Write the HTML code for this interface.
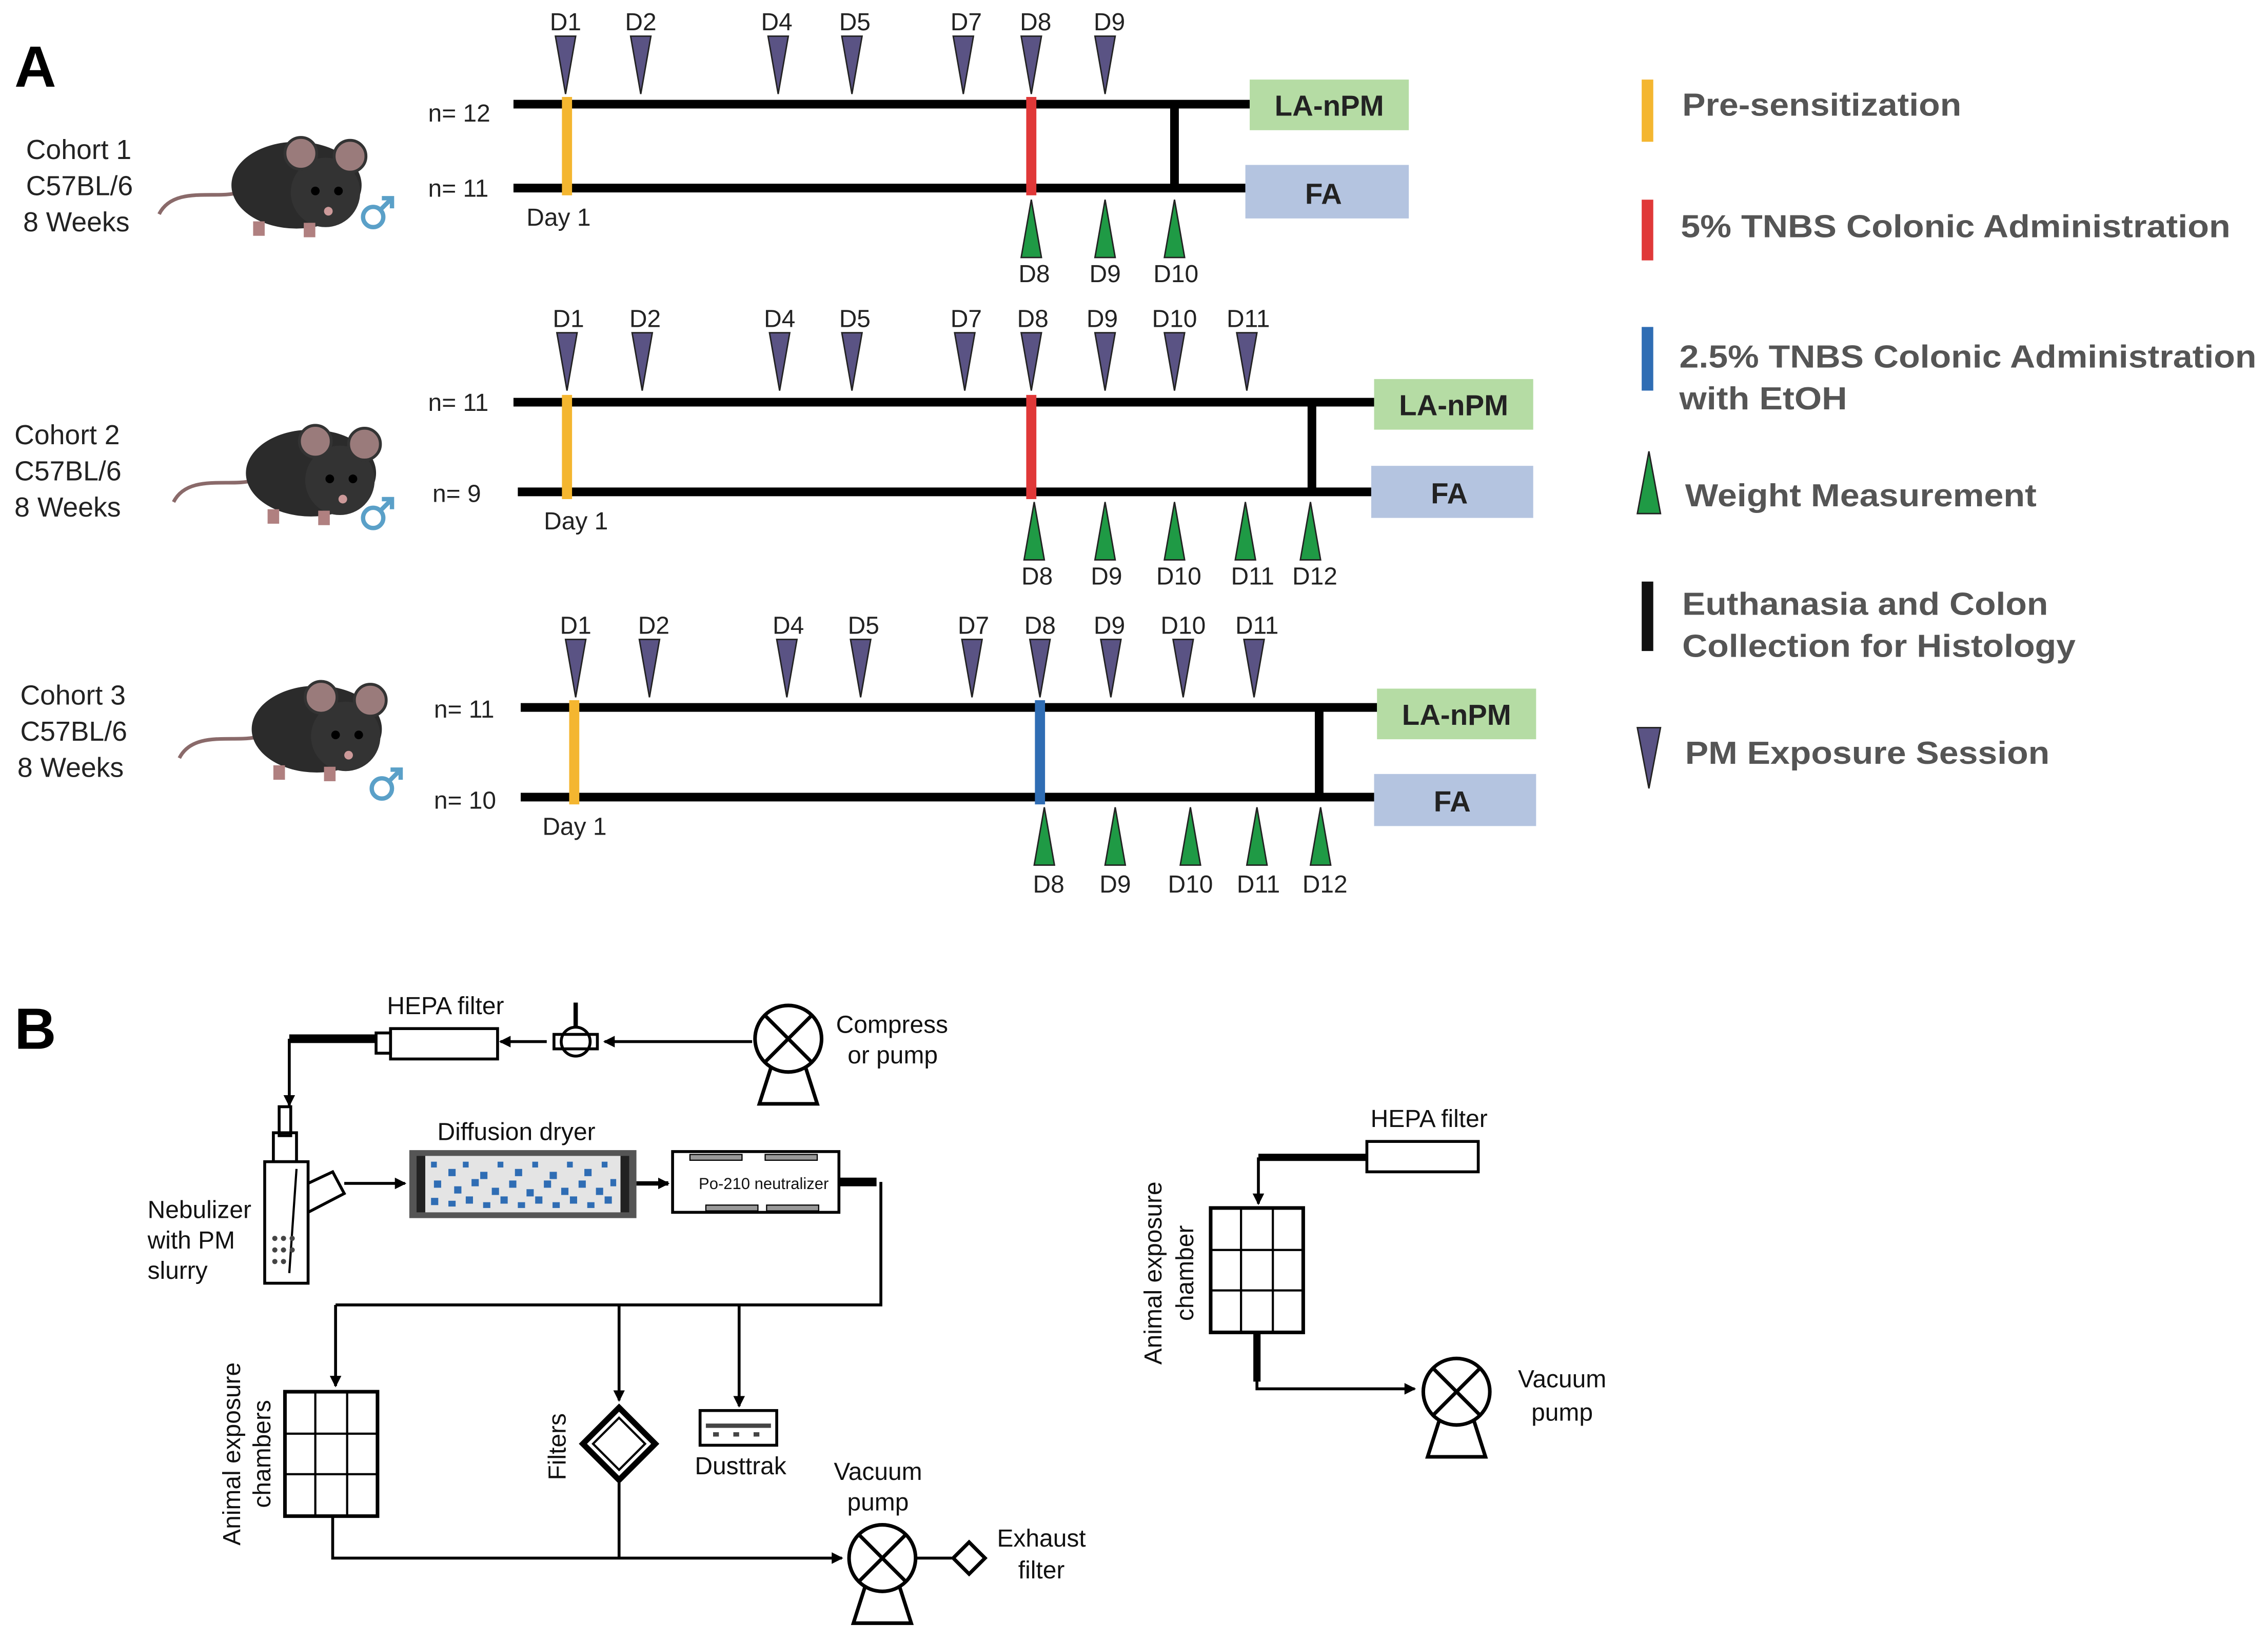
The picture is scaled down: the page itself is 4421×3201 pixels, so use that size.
<!DOCTYPE html>
<html><head><meta charset="utf-8"><style>
html,body{margin:0;padding:0;background:#fff}
svg{display:block}
text{font-family:"Liberation Sans",Arial,sans-serif}
</style></head><body>
<svg width="4421" height="3201" viewBox="0 0 1568 1135" preserveAspectRatio="none" xmlns="http://www.w3.org/2000/svg">
<defs>
<g id="pd"><polygon points="-7,0 7,0 0,40" fill="#5a5384" stroke="#222" stroke-width="1"/></g>
<g id="gu"><polygon points="-7,40 7,40 0,0" fill="#1f9a45" stroke="#222" stroke-width="1"/></g>
<marker id="ar" markerWidth="8" markerHeight="8" refX="7" refY="4" orient="auto" markerUnits="userSpaceOnUse"><path d="M0,0 L8,4 L0,8 z" fill="#000"/></marker>
<g id="mouse">
<path d="M0,50 C10,30 40,40 55,35" stroke="#8a6a6a" stroke-width="2.5" fill="none"/>
<ellipse cx="95" cy="30" rx="45" ry="30" fill="#2b2b2b"/>
<circle cx="115" cy="35" r="24" fill="#333"/>
<circle cx="98" cy="8" r="11" fill="#9a7b7b" stroke="#333" stroke-width="2"/>
<circle cx="132" cy="10" r="11" fill="#9a7b7b" stroke="#333" stroke-width="2"/>
<circle cx="108" cy="34" r="3" fill="#000"/><circle cx="124" cy="34" r="3" fill="#000"/>
<circle cx="117" cy="48" r="3" fill="#c99"/>
<rect x="65" y="55" width="8" height="10" fill="#b08080"/><rect x="100" y="56" width="8" height="10" fill="#b08080"/>
</g>
<g id="male" fill="none" stroke="#5aa0c8" stroke-width="3"><circle cx="0" cy="0" r="7"/><path d="M5,-5 L13,-13 M6,-13 H13 V-6"/></g>
<g id="pump"><circle cx="0" cy="0" r="23" fill="#fff" stroke="#000" stroke-width="2.5"/><path d="M-16,-16 L16,16 M16,-16 L-16,16" stroke="#000" stroke-width="2.5"/><path d="M-12,20 L-20,45 L20,45 L12,20" fill="none" stroke="#000" stroke-width="2.5"/></g>
<g id="grid"><rect x="0" y="0" width="64" height="86" fill="#fff" stroke="#000" stroke-width="2.5"/><path d="M21,0V86M43,0V86M0,29H64M0,57H64" stroke="#000" stroke-width="1.5"/></g>
</defs>

<text x="10" y="60" font-size="40" font-weight="bold">A</text>
<text x="10" y="725" font-size="40" font-weight="bold">B</text>

<g font-size="19" fill="#222">
<text x="18" y="110">Cohort 1</text><text x="18" y="135">C57BL/6</text><text x="16" y="160">8 Weeks</text>
<text x="10" y="307">Cohort 2</text><text x="10" y="332">C57BL/6</text><text x="10" y="357">8 Weeks</text>
<text x="14" y="487">Cohort 3</text><text x="14" y="512">C57BL/6</text><text x="12" y="537">8 Weeks</text>
</g>
<use href="#mouse" x="110" y="98"/><use href="#mouse" x="120" y="297"/><use href="#mouse" x="124" y="474"/>
<use href="#male" x="258" y="150"/><use href="#male" x="258" y="358"/><use href="#male" x="264" y="545"/>

<g stroke="#000" stroke-width="6">
<line x1="355" y1="72" x2="864" y2="72"/><line x1="355" y1="130" x2="861" y2="130"/><line x1="812" y1="72" x2="812" y2="130"/>
<line x1="355" y1="278" x2="950" y2="278"/><line x1="358" y1="340" x2="948" y2="340"/><line x1="907" y1="278" x2="907" y2="340"/>
<line x1="360" y1="489" x2="952" y2="489"/><line x1="360" y1="551" x2="950" y2="551"/><line x1="912" y1="489" x2="912" y2="551"/>
</g>
<g stroke-width="7">
<line x1="392" y1="67" x2="392" y2="135" stroke="#f4b630"/><line x1="713" y1="67" x2="713" y2="135" stroke="#e03838"/>
<line x1="392" y1="273" x2="392" y2="345" stroke="#f4b630"/><line x1="713" y1="273" x2="713" y2="345" stroke="#e03838"/>
<line x1="397" y1="484" x2="397" y2="556" stroke="#f4b630"/><line x1="719" y1="484" x2="719" y2="556" stroke="#2f6db4"/>
</g>
<g font-size="20" font-weight="bold" fill="#222">
<rect x="864" y="55" width="110" height="35" fill="#b5dca4"/><text x="919" y="80" text-anchor="middle">LA-nPM</text>
<rect x="861" y="114" width="113" height="37" fill="#b4c4e0"/><text x="915" y="141" text-anchor="middle">FA</text>
<rect x="950" y="262" width="110" height="35" fill="#b5dca4"/><text x="1005" y="287" text-anchor="middle">LA-nPM</text>
<rect x="948" y="322" width="112" height="36" fill="#b4c4e0"/><text x="1002" y="348" text-anchor="middle">FA</text>
<rect x="952" y="476" width="110" height="35" fill="#b5dca4"/><text x="1007" y="501" text-anchor="middle">LA-nPM</text>
<rect x="950" y="535" width="112" height="36" fill="#b4c4e0"/><text x="1004" y="561" text-anchor="middle">FA</text>
</g>
<g font-size="17" fill="#222">
<text x="296" y="84">n= 12</text><text x="296" y="136">n= 11</text><text x="364" y="156">Day 1</text>
<text x="296" y="284">n= 11</text><text x="299" y="347">n= 9</text><text x="376" y="366">Day 1</text>
<text x="300" y="496">n= 11</text><text x="300" y="559">n= 10</text><text x="375" y="577">Day 1</text>
</g>
<g font-size="17" fill="#222" text-anchor="middle">
<use href="#pd" x="391" y="25"/><use href="#pd" x="443" y="25"/><use href="#pd" x="538" y="25"/><use href="#pd" x="589" y="25"/><use href="#pd" x="666" y="25"/><use href="#pd" x="713" y="25"/><use href="#pd" x="764" y="25"/>
<text x="391" y="21">D1</text><text x="443" y="21">D2</text><text x="537" y="21">D4</text><text x="591" y="21">D5</text><text x="668" y="21">D7</text><text x="716" y="21">D8</text><text x="767" y="21">D9</text>
<use href="#gu" x="713" y="138"/><use href="#gu" x="764" y="138"/><use href="#gu" x="812" y="138"/>
<text x="715" y="195">D8</text><text x="764" y="195">D9</text><text x="813" y="195">D10</text>

<use href="#pd" x="392" y="230"/><use href="#pd" x="444" y="230"/><use href="#pd" x="539" y="230"/><use href="#pd" x="589" y="230"/><use href="#pd" x="667" y="230"/><use href="#pd" x="713" y="230"/><use href="#pd" x="764" y="230"/><use href="#pd" x="812" y="230"/><use href="#pd" x="862" y="230"/>
<text x="393" y="226">D1</text><text x="446" y="226">D2</text><text x="539" y="226">D4</text><text x="591" y="226">D5</text><text x="668" y="226">D7</text><text x="714" y="226">D8</text><text x="762" y="226">D9</text><text x="812" y="226">D10</text><text x="863" y="226">D11</text>
<use href="#gu" x="715" y="347"/><use href="#gu" x="764" y="347"/><use href="#gu" x="812" y="347"/><use href="#gu" x="861" y="347"/><use href="#gu" x="906" y="347"/>
<text x="717" y="404">D8</text><text x="765" y="404">D9</text><text x="815" y="404">D10</text><text x="866" y="404">D11</text><text x="909" y="404">D12</text>

<use href="#pd" x="398" y="442"/><use href="#pd" x="449" y="442"/><use href="#pd" x="544" y="442"/><use href="#pd" x="595" y="442"/><use href="#pd" x="672" y="442"/><use href="#pd" x="719" y="442"/><use href="#pd" x="768" y="442"/><use href="#pd" x="818" y="442"/><use href="#pd" x="867" y="442"/>
<text x="398" y="438">D1</text><text x="452" y="438">D2</text><text x="545" y="438">D4</text><text x="597" y="438">D5</text><text x="673" y="438">D7</text><text x="719" y="438">D8</text><text x="767" y="438">D9</text><text x="818" y="438">D10</text><text x="869" y="438">D11</text>
<use href="#gu" x="722" y="558"/><use href="#gu" x="771" y="558"/><use href="#gu" x="823" y="558"/><use href="#gu" x="869" y="558"/><use href="#gu" x="913" y="558"/>
<text x="725" y="617">D8</text><text x="771" y="617">D9</text><text x="823" y="617">D10</text><text x="870" y="617">D11</text><text x="916" y="617">D12</text>
</g>

<g stroke-width="8">
<line x1="1139" y1="55" x2="1139" y2="98" stroke="#f4b630"/>
<line x1="1139" y1="138" x2="1139" y2="180" stroke="#e03838"/>
<line x1="1139" y1="226" x2="1139" y2="270" stroke="#2f6db4"/>
<line x1="1139" y1="402" x2="1139" y2="450" stroke="#111"/>
</g>
<polygon points="1132,355 1148,355 1140,312" fill="#1f9a45" stroke="#222"/>
<polygon points="1132,503 1148,503 1140,545" fill="#5a5384" stroke="#222"/>
<g font-size="22" font-weight="bold" fill="#555" lengthAdjust="spacingAndGlyphs">
<text x="1163" y="80" textLength="193" lengthAdjust="spacingAndGlyphs">Pre-sensitization</text>
<text x="1162" y="164" textLength="380" lengthAdjust="spacingAndGlyphs">5% TNBS Colonic Administration</text>
<text x="1161" y="254" textLength="399" lengthAdjust="spacingAndGlyphs">2.5% TNBS Colonic Administration</text><text x="1161" y="283" textLength="116" lengthAdjust="spacingAndGlyphs">with EtOH</text>
<text x="1165" y="350" textLength="243" lengthAdjust="spacingAndGlyphs">Weight Measurement</text>
<text x="1163" y="425" textLength="253" lengthAdjust="spacingAndGlyphs">Euthanasia and Colon</text><text x="1163" y="454" textLength="272" lengthAdjust="spacingAndGlyphs">Collection for Histology</text>
<text x="1165" y="528" textLength="252" lengthAdjust="spacingAndGlyphs">PM Exposure Session</text>
</g>

<g font-size="17" fill="#111">
<text x="308" y="701" text-anchor="middle">HEPA filter</text>
<text x="578" y="714">Compress</text><text x="586" y="735">or pump</text>
<text x="357" y="788" text-anchor="middle">Diffusion dryer</text>
<text x="102" y="842">Nebulizer</text><text x="102" y="863">with PM</text><text x="102" y="884">slurry</text>
<text x="512" y="1019" text-anchor="middle">Dusttrak</text>
<text x="607" y="1023" text-anchor="middle">Vacuum</text><text x="607" y="1044" text-anchor="middle">pump</text>
<text x="720" y="1069" text-anchor="middle">Exhaust</text><text x="720" y="1091" text-anchor="middle">filter</text>
<text x="988" y="779" text-anchor="middle">HEPA filter</text>
<text x="1080" y="959" text-anchor="middle">Vacuum</text><text x="1080" y="982" text-anchor="middle">pump</text>
<text transform="translate(166,1005) rotate(-90)" text-anchor="middle">Animal exposure</text>
<text transform="translate(187,1005) rotate(-90)" text-anchor="middle">chambers</text>
<text transform="translate(391,1000) rotate(-90)" text-anchor="middle">Filters</text>
<text transform="translate(803,880) rotate(-90)" text-anchor="middle">Animal exposure</text>
<text transform="translate(825,880) rotate(-90)" text-anchor="middle">chamber</text>
</g>
<g stroke="#000" fill="none" stroke-width="2">
<path d="M200,718 H262" stroke-width="6"/>
<path d="M200,718 V764" marker-end="url(#ar)"/>
<rect x="270" y="711" width="74" height="21" fill="#fff"/>
<rect x="260" y="714" width="10" height="14" fill="#fff"/>
<path d="M378,720 H346" marker-end="url(#ar)"/>
<circle cx="398" cy="720" r="10" fill="#fff"/><rect x="383" y="715" width="30" height="10"/><line x1="398" y1="710" x2="398" y2="693" stroke-width="3"/>
<path d="M520,720 H418" marker-end="url(#ar)"/>
<rect x="193" y="765" width="8" height="20"/><rect x="189" y="783" width="16" height="20"/>
<rect x="183" y="803" width="30" height="84" fill="#fff"/>
<path d="M213,818 L230,810 L238,825 L213,838"/>
<path d="M205,808 L200,880" stroke-width="1.5"/>
<path d="M238,818 H280" marker-end="url(#ar)"/>
<path d="M440,818 H462" stroke-width="3" marker-end="url(#ar)"/>
<rect x="465" y="796" width="115" height="42" fill="#fff"/>
<path d="M580,817 H606" stroke-width="6"/>
<path d="M609,817 V902 H232"/>
<path d="M232,902 V958" marker-end="url(#ar)"/>
<path d="M428,902 V968" marker-end="url(#ar)"/>
<path d="M511,902 V972" marker-end="url(#ar)"/>
<path d="M428,1025 V1077"/>
<path d="M230,1048 V1077 H582" marker-end="url(#ar)"/>
<path d="M634,1077 H658"/>
<rect x="484" y="975" width="53" height="24" fill="#fff"/>
<path d="M870,800 H945" stroke-width="5"/>
<rect x="945" y="789" width="77" height="21" fill="#fff"/>
<path d="M870,800 V832" marker-end="url(#ar)"/>
<path d="M869,922 V960 H978" stroke-width="2" marker-end="url(#ar)"/>
<path d="M869,922 V955" stroke-width="5"/>
</g>
<g fill="#444"><circle cx="190" cy="856" r="1.8"/><circle cx="196" cy="856" r="1.8"/><circle cx="202" cy="856" r="1.8"/><circle cx="190" cy="864" r="1.8"/><circle cx="196" cy="864" r="1.8"/><circle cx="202" cy="864" r="1.8"/><circle cx="190" cy="872" r="1.8"/><circle cx="196" cy="872" r="1.8"/>
<rect x="488" y="984" width="45" height="3"/><rect x="493" y="990" width="4" height="3"/><rect x="507" y="990" width="4" height="3"/><rect x="521" y="990" width="4" height="3"/></g>
<rect x="283" y="795" width="157" height="47" fill="#555"/>
<rect x="294" y="799" width="135" height="39" fill="#e4e4e4"/>
<rect x="288" y="799" width="6" height="39" fill="#222"/><rect x="429" y="799" width="6" height="39" fill="#222"/>
<g fill="#2f6db4">
<rect x="298" y="803" width="4" height="4"/><rect x="310" y="808" width="5" height="5"/><rect x="320" y="803" width="4" height="4"/><rect x="332" y="810" width="5" height="5"/><rect x="344" y="803" width="4" height="4"/><rect x="356" y="808" width="5" height="5"/><rect x="368" y="803" width="4" height="4"/><rect x="380" y="810" width="5" height="5"/><rect x="392" y="803" width="4" height="4"/><rect x="404" y="808" width="5" height="5"/><rect x="416" y="803" width="4" height="4"/>
<rect x="300" y="816" width="5" height="5"/><rect x="314" y="820" width="5" height="5"/><rect x="326" y="815" width="5" height="5"/><rect x="340" y="821" width="5" height="5"/><rect x="352" y="816" width="5" height="5"/><rect x="364" y="822" width="5" height="5"/><rect x="376" y="816" width="5" height="5"/><rect x="388" y="821" width="5" height="5"/><rect x="400" y="816" width="5" height="5"/><rect x="412" y="821" width="5" height="5"/><rect x="422" y="815" width="4" height="5"/>
<rect x="298" y="828" width="5" height="5"/><rect x="310" y="830" width="5" height="4"/><rect x="322" y="827" width="5" height="5"/><rect x="334" y="831" width="5" height="4"/><rect x="346" y="827" width="5" height="5"/><rect x="358" y="831" width="5" height="4"/><rect x="370" y="827" width="5" height="5"/><rect x="382" y="831" width="5" height="4"/><rect x="394" y="827" width="5" height="5"/><rect x="406" y="831" width="5" height="4"/><rect x="418" y="827" width="5" height="5"/>
</g>
<g fill="#999" stroke="#000" stroke-width="0.8">
<rect x="477" y="798" width="36" height="4"/><rect x="529" y="798" width="36" height="4"/><rect x="488" y="833" width="36" height="4"/><rect x="530" y="833" width="36" height="4"/>
</g>
<text x="528" y="822" font-size="11" text-anchor="middle" fill="#111">Po-210 neutralizer</text>
<use href="#pump" x="545" y="718"/>
<use href="#pump" x="610" y="1077"/>
<use href="#pump" x="1007" y="962"/>
<use href="#grid" x="197" y="962"/>
<use href="#grid" x="837" y="835"/>
<g fill="#fff" stroke="#000">
<polygon points="428,973 453,998 428,1023 403,998" stroke-width="4"/>
<polygon points="428,980 446,998 428,1016 410,998" stroke-width="1.5"/>
<polygon points="670,1066 681,1077 670,1088 659,1077" stroke-width="2.5"/>
</g>
</svg>
</body></html>
